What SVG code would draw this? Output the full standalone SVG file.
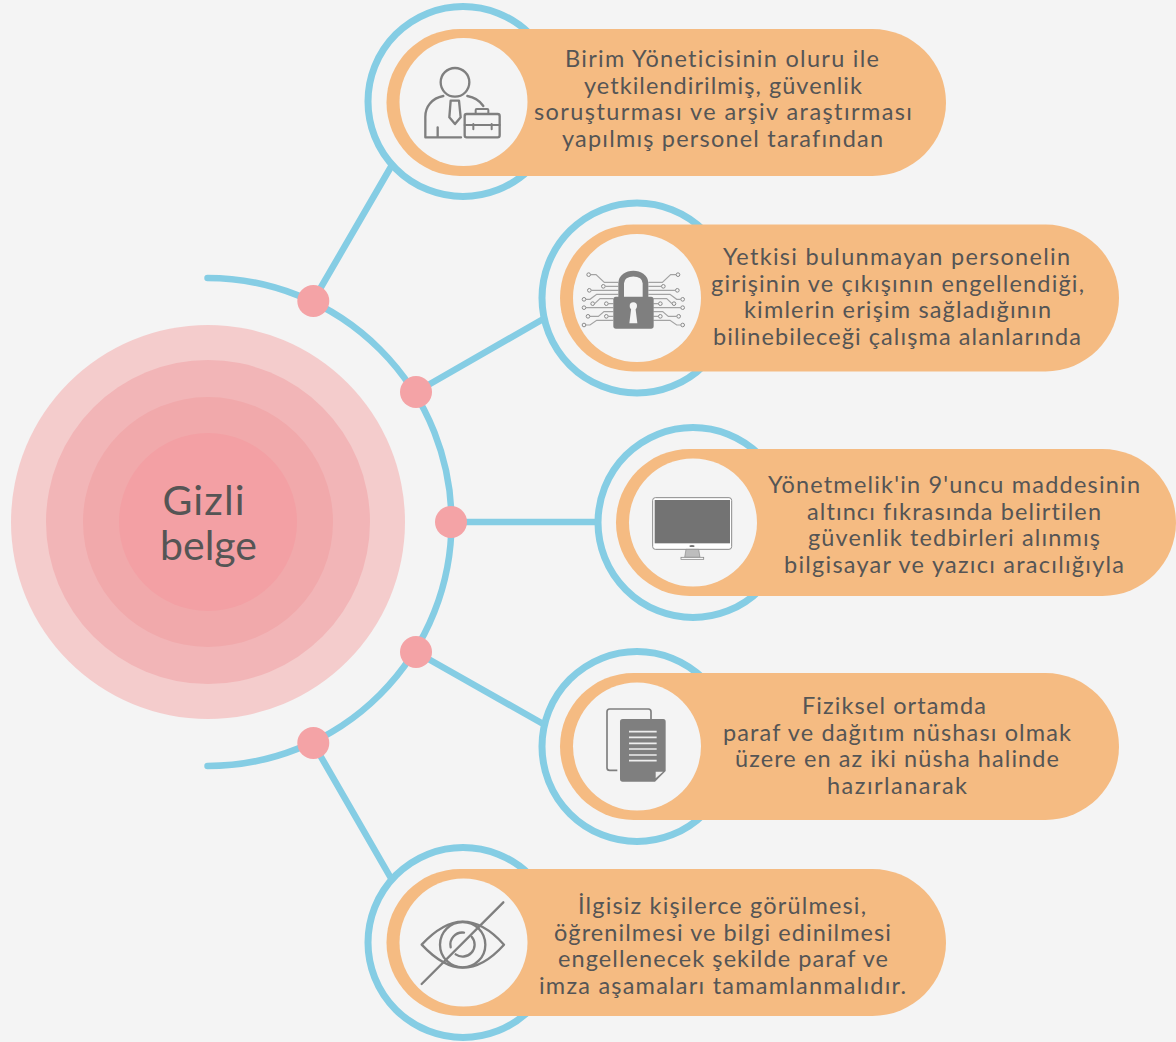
<svg xmlns="http://www.w3.org/2000/svg" width="1176" height="1042" viewBox="0 0 1176 1042">
<style>
.ring{fill:none;stroke:#85cde4;stroke-width:7}
.conn{fill:none;stroke:#85cde4;stroke-width:6.5}
.arc{stroke-linecap:round}
.dot{fill:#f4a3a6}
.pill{fill:#f5bb82}
.hole{fill:#f4f4f4}
.t{font-family:"Lato","Liberation Sans",sans-serif;font-size:23.5px;fill:#555;text-anchor:middle;font-variant-ligatures:none}
.title{font-family:"Lato","Liberation Sans",sans-serif;font-size:41px;fill:#555;text-anchor:middle;font-variant-ligatures:none}
.ln{fill:none;stroke:#7f7f7f;stroke-width:7;stroke-linecap:round;stroke-linejoin:round}
.tr{fill:none;stroke:#a3a3a3;stroke-width:3.5}
.pad{fill:#f4f4f4;stroke:#8a8a8a;stroke-width:3}
</style>
<defs>
<g id="traces">
<path class="tr" d="M167,224H183L208,247H250M211,259H250M169,271H250M153,298H165L185,283H250M179,311L195,296H235M220,311H235M153,323H235M165,349H190L207,335H235M220,349H235M153,375H165L185,361H235"/>
<circle class="pad" cx="161" cy="224" r="5.5"/><circle class="pad" cx="205" cy="259" r="5.5"/><circle class="pad" cx="163" cy="271" r="5.5"/><circle class="pad" cx="147" cy="298" r="5.5"/><circle class="pad" cx="173" cy="311" r="5.5"/><circle class="pad" cx="214" cy="311" r="5.5"/><circle class="pad" cx="147" cy="323" r="5.5"/><circle class="pad" cx="159" cy="349" r="5.5"/><circle class="pad" cx="214" cy="349" r="5.5"/><circle class="pad" cx="147" cy="375" r="5.5"/>
</g>
</defs>
<rect width="1176" height="1042" fill="#f4f4f4"/>

<g id="center">
<circle cx="208" cy="522" r="197" fill="#f4cccc"/>
<circle cx="208" cy="522" r="162" fill="#f2b5b7"/>
<circle cx="208" cy="522" r="125" fill="#f1a9ab"/>
<circle cx="208" cy="522" r="89" fill="#f3a0a4"/>
<text class="title" x="203.500" y="515" textLength="82">Gizli</text>
<text class="title" x="208.500" y="560" textLength="97">belge</text>
</g>

<g id="connectors">
<path class="conn arc" d="M207.500,278A244,244 0 0 1 451.500,522A244,244 0 0 1 207.500,766"/>
<path class="conn" d="M313,301L392,165M416,392L545,318M451,522H600M416,652L545,725M313,743L392,880"/>
<circle class="dot" cx="313.300" cy="301" r="16"/>
<circle class="dot" cx="416" cy="392" r="16"/>
<circle class="dot" cx="451" cy="522" r="16"/>
<circle class="dot" cx="416" cy="652" r="16"/>
<circle class="dot" cx="313.300" cy="743" r="16"/>
</g>

<g id="node1">
<circle class="ring" cx="463" cy="101.500" r="95"/>
<rect class="pill" x="386.500" y="29" width="559.500" height="147" rx="73.500"/>
<circle class="hole" cx="463.500" cy="102" r="64"/>
<g transform="translate(360,0) scale(.33333)">
<circle class="ln" cx="285" cy="247" r="43"/>
<path class="ln" d="M250,288C215,295 196,320 196,350V412H303M233,382V412M322,288C345,292 360,303 370,318M272,302L268,352L285,372L302,352L297,302Z"/>
<rect class="ln" x="314" y="342" width="105" height="70" rx="6"/>
<path class="ln" d="M314,375H419M347,342V330Q347,327 350,327H382Q385,327 385,330V342M340,372V388M395,372V388" style="stroke-width:6"/>
</g>
<text class="t" x="722" y="67" textLength="314">Birim Yöneticisinin oluru ile</text>
<text class="t" x="723" y="93.500" textLength="278">yetkilendirilmiş, güvenlik</text>
<text class="t" x="723" y="120" textLength="378">soruşturması ve arşiv araştırması</text>
<text class="t" x="722.500" y="146.500" textLength="321">yapılmış personel tarafından</text>
</g>

<g id="node2">
<circle class="ring" cx="637" cy="298" r="95"/>
<rect class="pill" x="560" y="224.500" width="559" height="147" rx="73.500"/>
<circle class="hole" cx="637" cy="298" r="64"/>
<g transform="translate(535,200) scale(.33333)">
<use href="#traces"/>
<use href="#traces" transform="translate(590,0) scale(-1,1)"/>
<path d="M258.500,292V250C258.500,211 331.500,211 331.500,250V292" fill="none" stroke="#7f7f7f" stroke-width="17"/>
<rect x="235" y="290" width="121" height="96" rx="8" fill="#7f7f7f"/>
<circle cx="295" cy="318" r="11" fill="#f4f4f4"/>
<path d="M289,322H301L307,370H283Z" fill="#f4f4f4"/>
</g>
<text class="t" x="896.500" y="265" textLength="347">Yetkisi bulunmayan personelin</text>
<text class="t" x="897.500" y="291.500" textLength="373">girişinin ve çıkışının engellendiği,</text>
<text class="t" x="897.500" y="318" textLength="307">kimlerin erişim sağladığının</text>
<text class="t" x="897" y="344.500" textLength="368">bilinebileceği çalışma alanlarında</text>
</g>

<g id="node3">
<circle class="ring" cx="693" cy="522.500" r="95"/>
<rect class="pill" x="616" y="449" width="560" height="147" rx="73.500"/>
<circle class="hole" cx="693" cy="522.500" r="64"/>
<g transform="translate(590,420) scale(.33333)">
<rect x="188" y="233" width="237" height="155" rx="8" fill="#fff" stroke="#8a8a8a" stroke-width="3"/>
<rect x="194" y="240" width="226" height="130" fill="#737373"/>
<ellipse cx="306" cy="378" rx="8" ry="2.500" fill="#444"/>
<path d="M288,388H326L330,412H284Z" fill="#bdbdbd" stroke="#8a8a8a" stroke-width="2"/>
<rect x="273" y="412" width="68" height="6" fill="#fff" stroke="#8a8a8a" stroke-width="2.500"/>
</g>
<text class="t" x="954" y="493" textLength="372">Yönetmelik'in 9'uncu maddesinin</text>
<text class="t" x="954" y="519.500" textLength="294">altıncı fıkrasında belirtilen</text>
<text class="t" x="954" y="546" textLength="292">güvenlik tedbirleri alınmış</text>
<text class="t" x="954" y="572.500" textLength="340">bilgisayar ve yazıcı aracılığıyla</text>
</g>

<g id="node4">
<circle class="ring" cx="637" cy="746.500" r="95"/>
<rect class="pill" x="560" y="673" width="559" height="147" rx="73.500"/>
<circle class="hole" cx="637" cy="746.500" r="64"/>
<g transform="translate(535,645) scale(.33333)">
<path d="M247,376H224Q216,376 216,368V200Q216,192 224,192H340Q348,192 348,200V222" fill="none" stroke="#7f7f7f" stroke-width="5"/>
<path d="M263,222H385Q392,222 392,230V378L360,410H263Q255,410 255,402V230Q255,222 263,222Z" fill="#7f7f7f"/>
<path d="M282,260H365M282,277H365M282,295H365M282,312H365M282,330H365M282,347H365" stroke="#eee" stroke-width="5" fill="none"/>
<path d="M362,400V380H384Z" fill="#f0f0f0"/>
</g>
<text class="t" x="894" y="714" textLength="184">Fiziksel ortamda</text>
<text class="t" x="897" y="740.500" textLength="348">paraf ve dağıtım nüshası olmak</text>
<text class="t" x="897" y="767" textLength="324">üzere en az iki nüsha halinde</text>
<text class="t" x="897" y="793.500" textLength="140">hazırlanarak</text>
</g>

<g id="node5">
<circle class="ring" cx="463" cy="942.500" r="95"/>
<rect class="pill" x="386.500" y="869" width="559.500" height="147" rx="73.500"/>
<circle class="hole" cx="463.500" cy="942.500" r="64"/>
<g transform="translate(360,840) scale(.33333)">
<path class="ln" d="M185,314Q250,245 308,245Q370,245 432,314Q370,383 308,383Q250,383 185,314Z"/>
<circle class="ln" cx="308" cy="314" r="68"/>
<path class="ln" d="M272,322A36,36 0 0 1 312,278M335,290A36,36 0 0 1 287,343"/>
<path class="ln" d="M185,432L430,187"/>
</g>
<text class="t" x="722" y="914" textLength="288">İlgisiz kişilerce görülmesi,</text>
<text class="t" x="722.500" y="940.500" textLength="337">öğrenilmesi ve bilgi edinilmesi</text>
<text class="t" x="723" y="967" textLength="330">engellenecek şekilde paraf ve</text>
<text class="t" x="722.500" y="993.500" textLength="367">imza aşamaları tamamlanmalıdır.</text>
</g>
</svg>
